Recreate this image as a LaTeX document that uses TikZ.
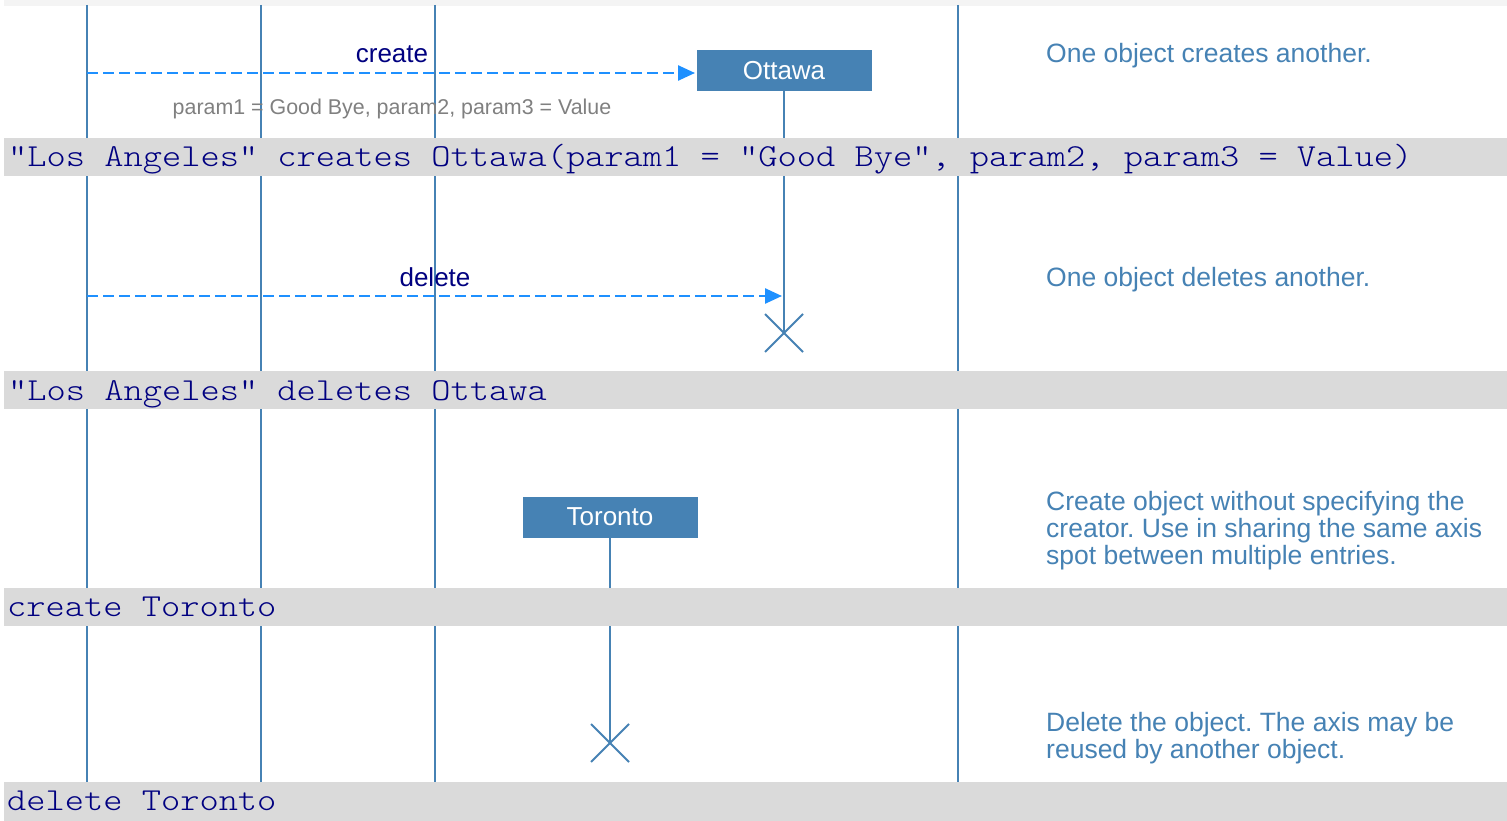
\documentclass[tikz,border=0pt]{standalone}
\usepackage{fontspec}
\setmainfont{Liberation Sans}
\setmonofont[FakeStretch=1.145]{Latin Modern Mono Light}
\usetikzlibrary{arrows.meta,calc}
\definecolor{steel}{HTML}{4682B4}
\definecolor{msgblue}{HTML}{1E90FF}
\definecolor{navytext}{HTML}{000080}
\definecolor{bandgray}{HTML}{DADADA}
\definecolor{topgray}{HTML}{F4F4F4}
\definecolor{paramgray}{HTML}{808080}
\frenchspacing
\begin{document}
\begin{tikzpicture}[x=1pt,y=-1pt,
 lifeline/.style={draw=steel,line width=1.8pt},
 band/.style={fill=bandgray,draw=none},
 codetext/.style={anchor=base west,inner sep=0pt,text=navytext,font=\ttfamily\fontsize{32}{32}\selectfont},
 objbox/.style={fill=steel,draw=none,minimum width=175pt,minimum height=41pt,text=white,font=\fontsize{26}{26}\selectfont,inner sep=0pt},
 msg/.style={draw=msgblue,line width=2.5pt,dash pattern=on 11pt off 5pt,-{Triangle[length=17pt,width=15pt]}},
 msglabel/.style={text=navytext,font=\fontsize{26}{26}\selectfont,anchor=base,inner sep=0pt},
 paramlabel/.style={text=paramgray,font=\fontsize{21.4}{21.4}\selectfont,anchor=base,inner sep=0pt},
 note/.style={text=steel,font=\fontsize{26.5}{26.5}\selectfont,anchor=base west,inner sep=0pt},
 cross/.style={draw=steel,line width=1.8pt}
]
\useasboundingbox (0,0) rectangle (1507,821);
\fill[white] (0,0) rectangle (1507,821);
\fill[topgray] (4,0) rectangle (1507,6);

% lifelines
\coordinate (a1t) at (87,5);   \coordinate (a1b) at (87,821);
\coordinate (a2t) at (261,5);  \coordinate (a2b) at (261,785);
\coordinate (a3t) at (435,5);  \coordinate (a3b) at (435,785);
\coordinate (a4t) at (958,5);  \coordinate (a4b) at (958,821);
\draw[lifeline] (a1t) -- (a1b);
\draw[lifeline] (a2t) -- (a2b);
\draw[lifeline] (a3t) -- (a3b);
\draw[lifeline] (a4t) -- (a4b);

% objects
\node[objbox] (ottawa) at (784,70.5) {Ottawa};
\node[objbox] (toronto) at (610,517) {Toronto};
\coordinate (ottX) at (784,333);
\coordinate (torX) at (610,743);
\draw[lifeline] (ottawa.south) -- (ottX);
\draw[lifeline] (toronto.south) -- (torX);
\draw[cross] ($(ottX)+(-19,-19)$) -- ($(ottX)+(19,19)$);
\draw[cross] ($(ottX)+(-19,19)$) -- ($(ottX)+(19,-19)$);
\draw[cross] ($(torX)+(-19,-19)$) -- ($(torX)+(19,19)$);
\draw[cross] ($(torX)+(-19,19)$) -- ($(torX)+(19,-19)$);

% bands
\fill[band] (4,138) rectangle (1507,176);
\fill[band] (4,371) rectangle (1507,409);
\fill[band] (4,588) rectangle (1507,626);
\fill[band] (4,782) rectangle (1507,821);
\node[codetext] (code1) at (8,167) {"Los Angeles" creates Ottawa(param1 = "Good Bye", param2, param3 = Value)};
\node[codetext] (code2) at (8,400) {"Los Angeles" deletes Ottawa};
\node[codetext] (code3) at (7,616) {create Toronto};
\node[codetext] (code4) at (7,810) {delete Toronto};

% messages
\coordinate (m1s) at (87,73);
\coordinate (m1e) at (695,73);
\draw[msg] (m1s) -- (m1e);
\node[msglabel] (createlbl) at (392,63) {create};
\node[paramlabel] (params) at (392,115) {param1 = Good Bye, param2, param3 = Value};
\coordinate (m2s) at (87,296);
\coordinate (m2e) at (782,296);
\draw[msg] (m2s) -- (m2e);
\node[msglabel] (deletelbl) at (435,286) {delete};

% notes
\node[note] (n1) at (1046,63) {One object creates another.};
\node[note] (n2) at (1046,286) {One object deletes another.};
\node[note] (n3a) at (1046,510) {Create object without specifying the};
\node[note] (n3b) at (1046,537) {creator. Use in sharing the same axis};
\node[note] (n3c) at (1046,564) {spot between multiple entries.};
\node[note] (n4a) at (1046,731) {Delete the object. The axis may be};
\node[note] (n4b) at (1046,758) {reused by another object.};
\end{tikzpicture}
\end{document}
